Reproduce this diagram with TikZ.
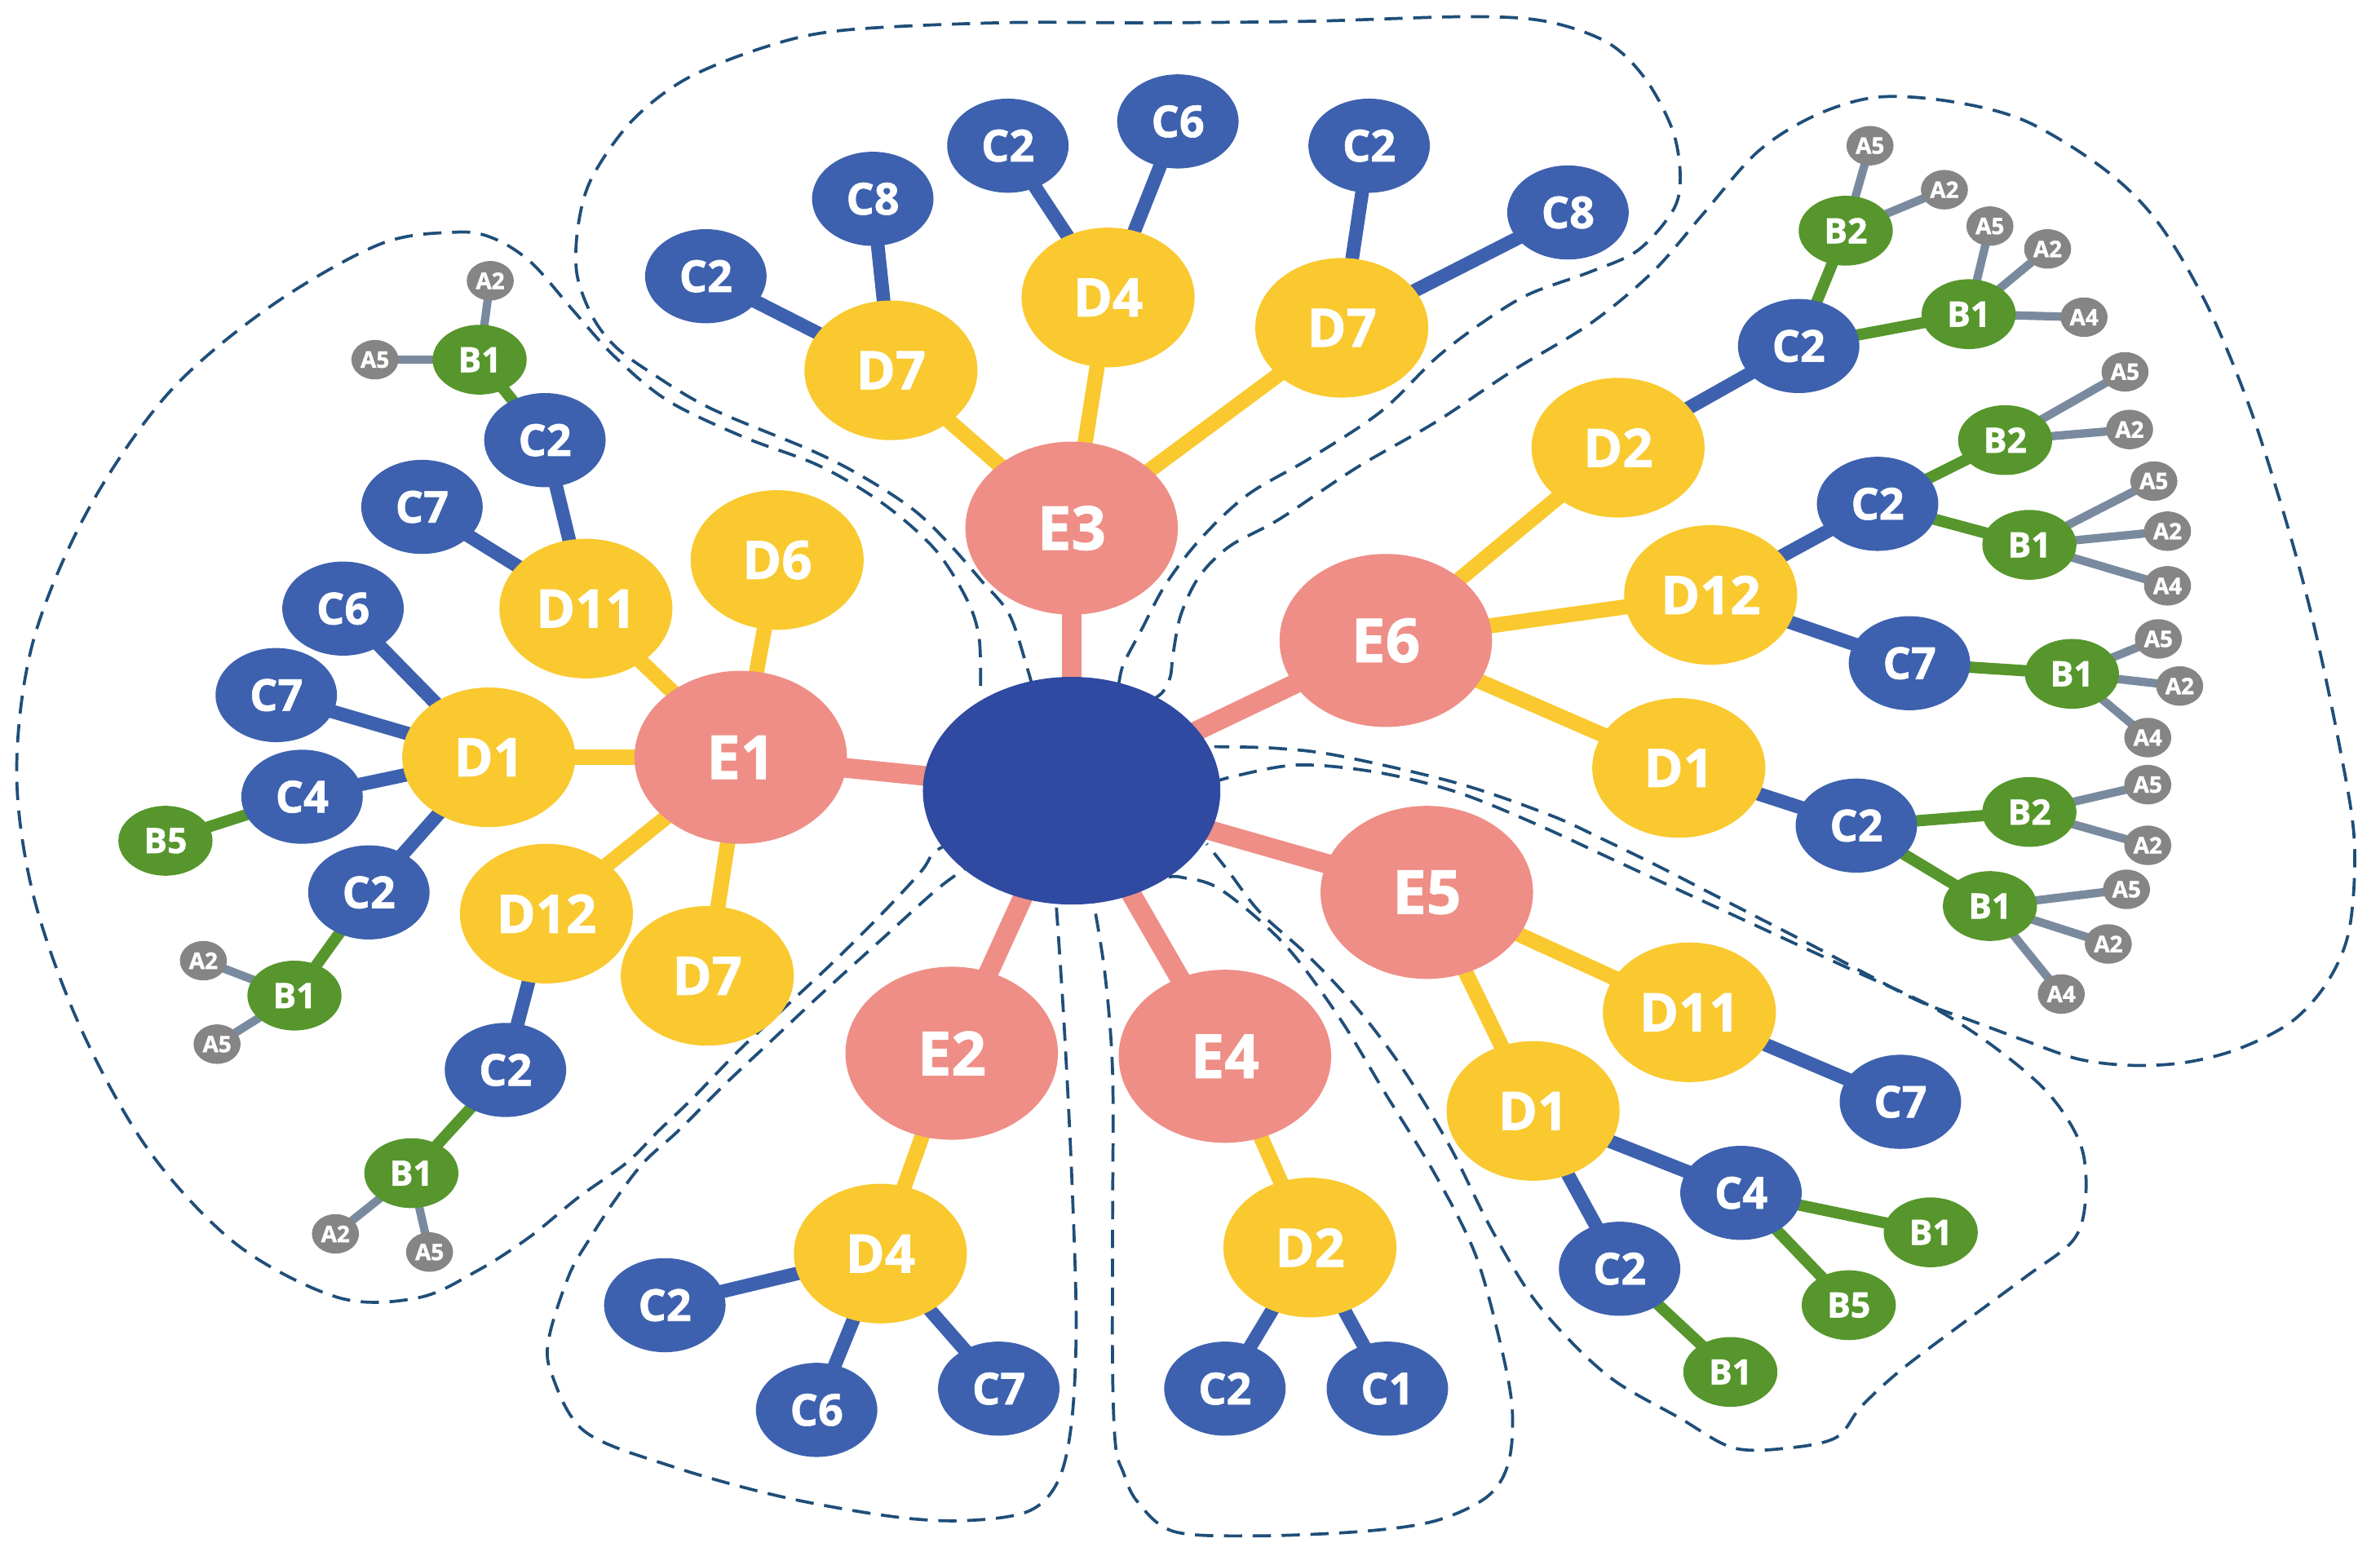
\documentclass[tikz,border=0pt]{standalone}
\usepackage{fontspec}
\setmainfont{Open Sans}[BoldFeatures={FakeBold=1.2}]
\usetikzlibrary{shapes.geometric}
\definecolor{hubc}{HTML}{2F4AA0}
\definecolor{ecol}{HTML}{EE8E86}
\definecolor{dcol}{HTML}{F9C92F}
\definecolor{ccol}{HTML}{3D61AE}
\definecolor{bcol}{HTML}{56962C}
\definecolor{acol}{HTML}{858585}
\definecolor{alin}{HTML}{7A8A9E}
\definecolor{dashc}{HTML}{1F4E79}
\pgfdeclarelayer{outl}
\pgfdeclarelayer{edges}
\pgfsetlayers{outl,edges,main}
\tikzset{
  nd/.style={ellipse, inner sep=0pt, text=white},
  hubn/.style={nd, fill=hubc, minimum width=196pt, minimum height=150pt},
  en/.style={nd, fill=ecol, minimum width=140pt, minimum height=114pt, font=\bfseries\fontsize{40}{40}\selectfont},
  dn/.style={nd, fill=dcol, minimum width=114pt, minimum height=92pt, font=\bfseries\fontsize{35}{35}\selectfont},
  cn/.style={nd, fill=ccol, minimum width=80pt, minimum height=62pt, font=\bfseries\fontsize{29}{29}\selectfont},
  bn/.style={nd, fill=bcol, minimum width=62pt, minimum height=46pt, font=\bfseries\fontsize{23}{23}\selectfont},
  an/.style={nd, fill=acol, minimum width=31pt, minimum height=26pt, font=\bfseries\fontsize{15}{15}\selectfont},
  le/.style={line width=13pt, ecol},
  ld/.style={line width=10pt, dcol},
  lc/.style={line width=9pt, ccol},
  lb/.style={line width=7.5pt, bcol},
  la/.style={line width=5.5pt, alin},
  outline/.style={dashc, line width=2pt, dash pattern=on 12pt off 7pt}
}
\begin{document}
\begin{tikzpicture}[x=1pt, y=-1pt]
\path[use as bounding box] (0,0) rectangle (1568,1025);
% hub and E
\node[hubn] (hub) at (706,521) {};
\node[en] (E1) at (488,499) {E1};
\node[en] (E2) at (627,694) {E2};
\node[en] (E3) at (706,348) {E3};
\node[en] (E4) at (807,696) {E4};
\node[en] (E5) at (940,588) {E5};
\node[en] (E6) at (913,422) {E6};
% D
\node[dn] (ld11) at (386,401) {D11};
\node[dn] (ld6) at (512,369) {D6};
\node[dn] (ld1) at (322,499) {D1};
\node[dn] (ld12) at (360,602) {D12};
\node[dn] (ld7) at (466,643) {D7};
\node[dn] (td7a) at (587,244) {D7};
\node[dn] (td4) at (730,196) {D4};
\node[dn] (td7b) at (884,216) {D7};
\node[dn] (rd2) at (1066,295) {D2};
\node[dn] (rd12) at (1127,392) {D12};
\node[dn] (rd1) at (1106,506) {D1};
\node[dn] (sd11) at (1113,667) {D11};
\node[dn] (sd1) at (1010,732) {D1};
\node[dn] (fd2) at (863,822) {D2};
\node[dn] (gd4) at (580,826) {D4};
% C
\node[cn] (lc2a) at (359,290) {C2};
\node[cn] (lc7a) at (278,334) {C7};
\node[cn] (lc6) at (226,401) {C6};
\node[cn] (lc7b) at (182,458) {C7};
\node[cn] (lc4) at (199,525) {C4};
\node[cn] (lc2b) at (243,588) {C2};
\node[cn] (lc2c) at (333,705) {C2};
\node[cn] (tc2a) at (465,182) {C2};
\node[cn] (tc8a) at (575,131) {C8};
\node[cn] (tc2b) at (664,96) {C2};
\node[cn] (tc6) at (776,80) {C6};
\node[cn] (tc2c) at (902,96) {C2};
\node[cn] (tc8b) at (1033,140) {C8};
\node[cn] (rc2a) at (1185,228) {C2};
\node[cn] (rc2b) at (1237,332) {C2};
\node[cn] (rc7) at (1258,437) {C7};
\node[cn] (rc2c) at (1223,544) {C2};
\node[cn] (sc7) at (1252,726) {C7};
\node[cn] (sc4) at (1147,786) {C4};
\node[cn] (sc2) at (1067,836) {C2};
\node[cn] (fc2) at (807,915) {C2};
\node[cn] (fc1) at (914,915) {C1};
\node[cn] (gc2) at (438,860) {C2};
\node[cn] (gc6) at (538,929) {C6};
\node[cn] (gc7) at (658,915) {C7};
% B
\node[bn] (lb1a) at (316,237) {B1};
\node[bn] (lb5) at (109,554) {B5};
\node[bn] (lb1b) at (194,656) {B1};
\node[bn] (lb1c) at (271,773) {B1};
\node[bn] (rb2a) at (1216,152) {B2};
\node[bn] (rb1a) at (1297,207) {B1};
\node[bn] (rb2b) at (1321,290) {B2};
\node[bn] (rb1b) at (1337,359) {B1};
\node[bn] (rb1c) at (1365,444) {B1};
\node[bn] (rb2c) at (1337,535) {B2};
\node[bn] (rb1d) at (1311,597) {B1};
\node[bn] (sb1a) at (1272,812) {B1};
\node[bn] (sb5) at (1218,860) {B5};
\node[bn] (sb1b) at (1140,904) {B1};
% A
\node[an] (a1) at (323,185) {A2};
\node[an] (a2) at (247,237) {A5};
\node[an] (a3) at (134,633) {A2};
\node[an] (a4) at (143,688) {A5};
\node[an] (a5) at (221,813) {A2};
\node[an] (a6) at (283,825) {A5};
\node[an] (a7) at (1232,96) {A5};
\node[an] (a8) at (1281,125) {A2};
\node[an] (a9) at (1311,149) {A5};
\node[an] (a10) at (1349,164) {A2};
\node[an] (a11) at (1373,209) {A4};
\node[an] (a12) at (1400,245) {A5};
\node[an] (a13) at (1403,283) {A2};
\node[an] (a14) at (1419,317) {A5};
\node[an] (a15) at (1428,350) {A2};
\node[an] (a16) at (1428,386) {A4};
\node[an] (a17) at (1422,421) {A5};
\node[an] (a18) at (1436,452) {A2};
\node[an] (a19) at (1415,486) {A4};
\node[an] (a20) at (1415,517) {A5};
\node[an] (a21) at (1415,557) {A2};
\node[an] (a22) at (1401,586) {A5};
\node[an] (a23) at (1389,622) {A2};
\node[an] (a24) at (1358,655) {A4};
% edges
\begin{pgfonlayer}{edges}
\foreach \b in {E1,E2,E3,E4,E5,E6} \draw[le] (hub.center) -- (\b.center);
\foreach \a/\b in {E1/ld11,E1/ld6,E1/ld1,E1/ld12,E1/ld7,E3/td7a,E3/td4,E3/td7b,E6/rd2,E6/rd12,E6/rd1,E5/sd11,E5/sd1,E4/fd2,E2/gd4}
  \draw[ld] (\a.center) -- (\b.center);
\foreach \a/\b in {ld11/lc2a,ld11/lc7a,ld1/lc6,ld1/lc7b,ld1/lc4,ld1/lc2b,ld12/lc2c,td7a/tc2a,td7a/tc8a,td4/tc2b,td4/tc6,td7b/tc2c,td7b/tc8b,rd2/rc2a,rd12/rc2b,rd12/rc7,rd1/rc2c,sd11/sc7,sd1/sc4,sd1/sc2,fd2/fc2,fd2/fc1,gd4/gc2,gd4/gc6,gd4/gc7}
  \draw[lc] (\a.center) -- (\b.center);
\foreach \a/\b in {lc2a/lb1a,lc4/lb5,lc2b/lb1b,lc2c/lb1c,rc2a/rb2a,rc2a/rb1a,rc2b/rb2b,rc2b/rb1b,rc7/rb1c,rc2c/rb2c,rc2c/rb1d,sc4/sb1a,sc4/sb5,sc2/sb1b}
  \draw[lb] (\a.center) -- (\b.center);
\foreach \a/\b in {lb1a/a1,lb1a/a2,lb1b/a3,lb1b/a4,lb1c/a5,lb1c/a6,rb2a/a7,rb2a/a8,rb1a/a9,rb1a/a10,rb1a/a11,rb2b/a12,rb2b/a13,rb1b/a14,rb1b/a15,rb1b/a16,rb1c/a17,rb1c/a18,rb1c/a19,rb2c/a20,rb2c/a21,rb1d/a22,rb1d/a23,rb1d/a24}
  \draw[la] (\a.center) -- (\b.center);
\end{pgfonlayer}
% dashed outlines
\begin{pgfonlayer}{outl}
% E1 group
\draw[outline] plot[smooth, tension=0.55] coordinates {(646,452) (645,420) (637,395) (616,362) (582,332) (540,307) (490,288) (440,264) (405,235) (378,205) (350,173) (325,157) (300,153) (250,161) (178,202) (111,259) (58,336) (22,422) (11,508) (22,590) (53,677) (98,758) (156,820) (223,855) (276,855) (315,837) (349,815) (381,789) (413,766) (434,745) (456,724) (487,692) (519,662) (551,632) (583,600) (607,574) (615,562) (626,556) (640,553)};
% E3 group
\draw[outline] plot[smooth, tension=0.55] coordinates {(680,452) (677,441) (665,405) (646,382) (625,358) (602,336) (570,315) (535,297) (468,269) (428,245) (405,228) (390,208) (380,180) (381,148) (390,117) (416,80) (452,52) (504,31) (555,20) (658,15) (760,15) (863,14) (966,11) (1018,14) (1059,28) (1084,52) (1102,86) (1107,117) (1102,139) (1079,165) (1048,179) (1007,194) (976,213) (946,236) (910,271) (863,302) (822,326) (791,355) (768,385) (752,415) (740,438) (737,452)};
% E6 group
\draw[outline] plot[smooth, tension=0.55] coordinates {(758,462) (766,456) (771,446) (773,430) (778,405) (790,380) (810,360) (843,342) (894,308) (946,278) (997,244) (1048,213) (1089,179) (1122,141) (1158,100) (1196,76) (1237,64) (1286,67) (1335,80) (1387,112) (1422,147) (1454,201) (1482,268) (1506,343) (1524,410) (1541,490) (1551,553) (1548,611) (1534,646) (1510,673) (1475,691) (1440,700) (1405,702) (1370,698) (1335,686) (1300,673) (1265,660) (1230,642) (1196,624) (1161,606) (1126,588) (1091,570) (1056,553) (1021,537) (960,516) (882,498) (840,493) (800,492)};
% E5 group
\draw[outline] plot[smooth, tension=0.55] coordinates {(798,516) (815,511) (856,504) (908,509) (960,522) (1012,543) (1064,567) (1116,591) (1168,615) (1220,639) (1272,663) (1314,690) (1350,721) (1371,755) (1374,790) (1366,817) (1335,841) (1293,872) (1252,903) (1226,927) (1210,947) (1179,954) (1142,954) (1106,934) (1064,910) (1033,882) (1007,851) (981,807) (955,755) (924,704) (893,663) (861,629) (830,601) (810,575) (795,556)};
% E4 group
\draw[outline] plot[smooth, tension=0.55] coordinates {(770,578) (778,578) (804,586) (846,622) (882,670) (913,721) (945,773) (971,824) (986,875) (996,925) (994,963) (980,986) (946,1002) (898,1009) (826,1012) (773,1009) (749,989) (740,970) (735,953) (733,904) (733,806) (733,707) (728,642) (720,592)};
% E2 group
\draw[outline] plot[smooth, tension=0.55] coordinates {(696,598) (701,674) (706,773) (709,871) (706,937) (697,976) (677,996) (634,1002) (586,999) (514,986) (442,966) (385,943) (363,904) (362,880) (375,840) (388,817) (405,791) (424,766) (447,745) (477,715) (509,685) (541,655) (583,617) (621,583) (652,562)};
\end{pgfonlayer}
\end{tikzpicture}
\end{document}
